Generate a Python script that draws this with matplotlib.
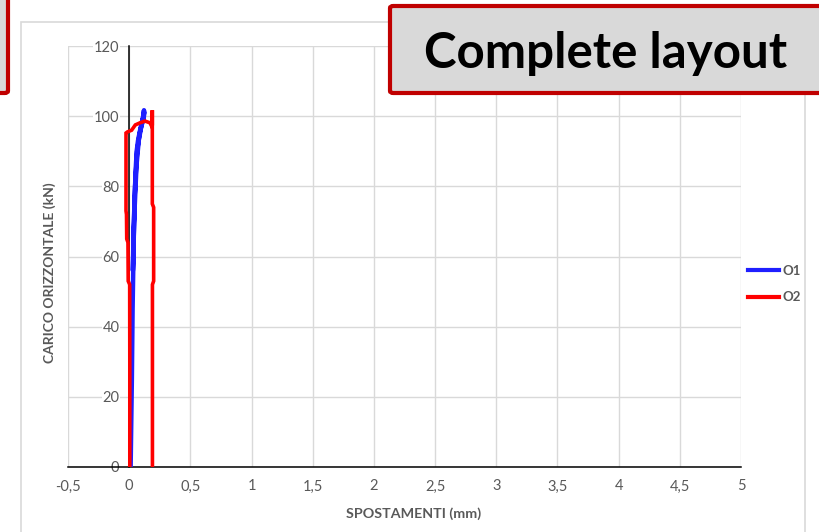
import matplotlib.pyplot as plt
from matplotlib.patches import Rectangle, FancyBboxPatch

plt.rcParams['font.family'] = ['Lato', 'DejaVu Sans']

# load / displacement curves (mm, kN)
o1_x = [0.012, 0.016, 0.022, 0.028, 0.035, 0.042, 0.052, 0.061, 0.072, 0.083, 0.098, 0.112,
        0.121, 0.118, 0.105, 0.085, 0.065, 0.048, 0.036, 0.030, 0.034, 0.045, 0.060, 0.078,
        0.096, 0.110, 0.120, 0.124, 0.118]
o1_y = [0, 10, 25, 45, 60, 74, 84, 90, 93, 95, 97.5, 99.5,
        101.7, 100.5, 98, 95, 90, 80, 68, 56, 62, 74, 86, 93,
        96.5, 98.5, 100.5, 101.2, 99]

o2_x = [0.005, 0.005, 0.004, -0.008, -0.010, -0.020, -0.022, -0.026, -0.026, -0.015, 0.020,
        0.050, 0.088, 0.129, 0.170, 0.184, 0.189, 0.189, 0.189, 0.200, 0.200, 0.190, 0.190]
o2_y = [0, 30, 52, 53, 64, 65, 72, 73, 95.2, 95.5, 96,
        97.5, 98.1, 98.6, 98.1, 97.1, 97.5, 101.7, 75, 74, 53, 52, 0]

x_ticks = [-0.5, 0, 0.5, 1, 1.5, 2, 2.5, 3, 3.5, 4, 4.5, 5]
y_ticks = [0, 20, 40, 60, 80, 100, 120]

W, H = 820, 532
fig = plt.figure(figsize=(W / 100, H / 100), dpi=100)

# chart frame
fig.patches.append(Rectangle((21 / W, -0.05), (805 - 21) / W, 1 - 22 / H + 0.05,
                             transform=fig.transFigure, facecolor='white',
                             edgecolor='#d9d9d9', lw=1.2, zorder=-5))

ax = fig.add_axes([68 / W, 1 - 467 / H, (741 - 68) / W, (467 - 46) / H])
ax.set_zorder(1)
ax.set_xlim(-0.5, 5)
ax.set_ylim(0, 120)
ax.set_facecolor('none')

ax.set_xticks(x_ticks)
ax.set_xticklabels([f'{t:g}'.replace('.', ',') for t in x_ticks])
ax.set_yticks(y_ticks)
ax.grid(True, color='#d9d9d9', lw=1.0, zorder=0)
ax.set_axisbelow(True)

for s in ['top', 'right']:
    ax.spines[s].set_visible(False)
ax.spines['left'].set_position(('data', 0))
ax.spines['left'].set_color('black')
ax.spines['left'].set_linewidth(1.1)
ax.spines['bottom'].set_color('black')
ax.spines['bottom'].set_linewidth(1.1)

ax.tick_params(axis='both', length=0, labelsize=10.5, labelcolor='#595959')
ax.tick_params(axis='x', pad=9)
ax.tick_params(axis='y', pad=7)
for lab in ax.get_yticklabels():
    lab.set_bbox(dict(facecolor='white', edgecolor='none', pad=0.5))

ax.plot(o1_x, o1_y, color='#1f1fff', lw=3.2, solid_joinstyle='round', zorder=3, label='O1')
ax.plot(o2_x, o2_y, color='#ff0000', lw=2.6, solid_joinstyle='miter', zorder=4, label='O2')

fig.text(50 / W, 1 - 273 / H, 'CARICO ORIZZONTALE (kN)', rotation=90, ha='center',
         va='center', fontsize=10, fontweight='bold', color='#595959')
fig.text(414 / W, 1 - 514 / H, 'SPOSTAMENTI (mm)', ha='center', va='center',
         fontsize=10.3, fontweight='bold', color='#595959')

leg = ax.legend(loc='center left', bbox_to_anchor=(675 / 673, 1 - (284 - 46) / 421),
                frameon=False, fontsize=9.5, handlelength=2.3, handletextpad=0.3,
                labelspacing=1.1, borderaxespad=0)
for t in leg.get_texts():
    t.set_color('#595959')
    t.set_fontweight('bold')
for ln in leg.get_lines():
    ln.set_linewidth(3)

# title box and cropped side box
fig.patches.append(FancyBboxPatch((390 / W, 1 - 93 / H), (830 - 390) / W, (93 - 6) / H,
                                  boxstyle='round,pad=0,rounding_size=0.004',
                                  transform=fig.transFigure, facecolor='#d9d9d9',
                                  edgecolor='#c00000', lw=3, zorder=5))
fig.text(606 / W, 1 - 54 / H, 'Complete layout', ha='center', va='center',
         fontsize=35.5, fontweight='bold', color='black', zorder=6)
fig.patches.append(FancyBboxPatch((-20 / W, 1 - 93 / H), 28 / W, 100 / H,
                                  boxstyle='round,pad=0,rounding_size=0.004',
                                  transform=fig.transFigure, facecolor='#d9d9d9',
                                  edgecolor='#c00000', lw=3, zorder=5))

fig.savefig('out.png', dpi=100)
